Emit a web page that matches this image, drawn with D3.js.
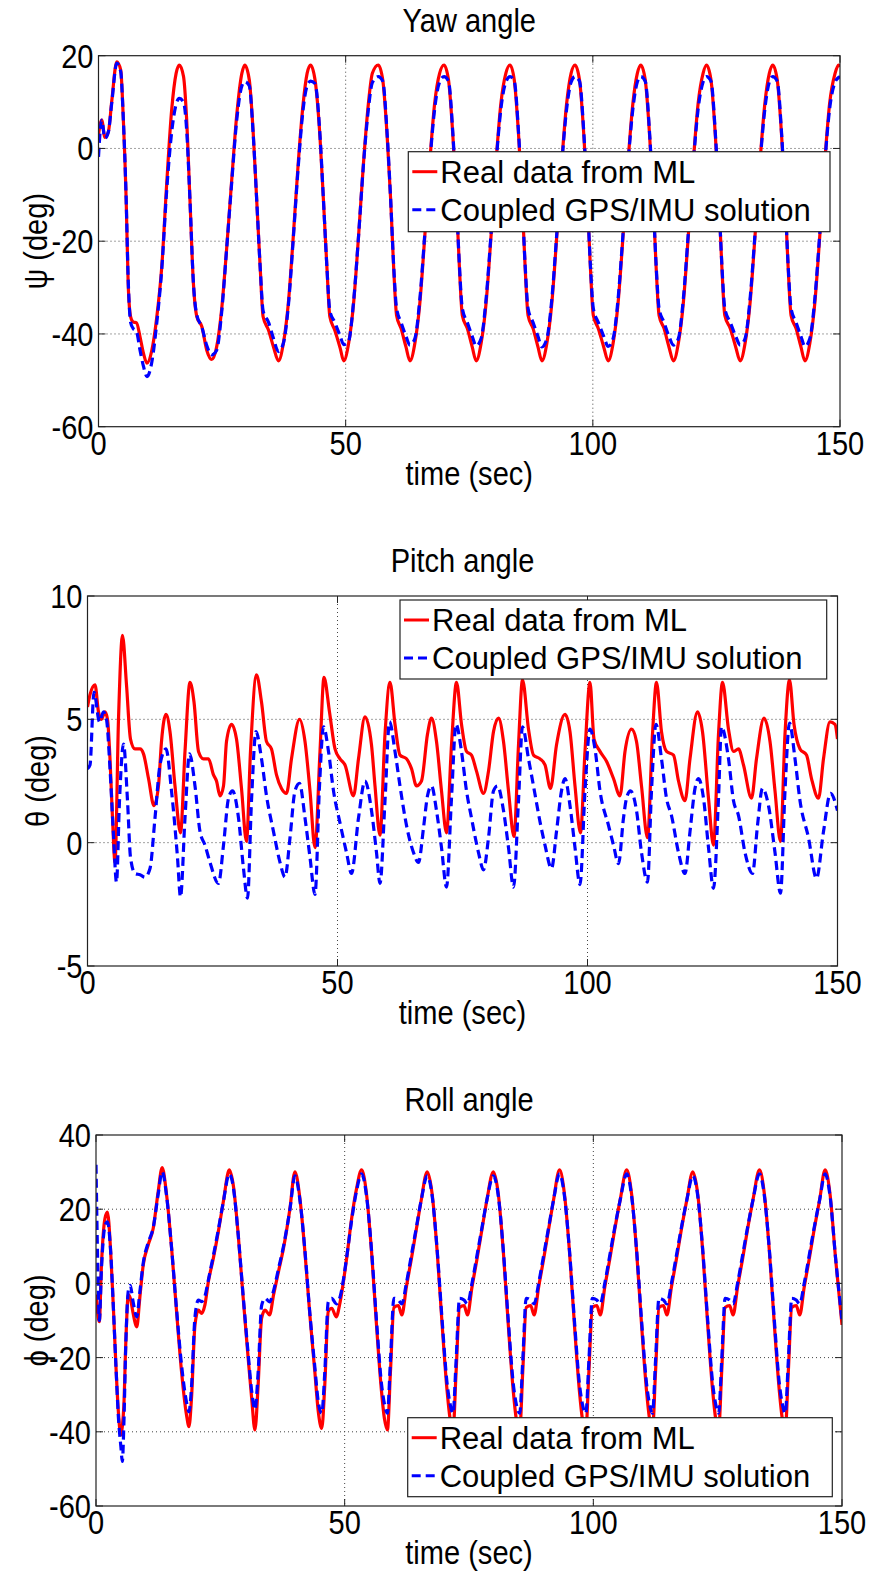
<!DOCTYPE html>
<html><head><meta charset="utf-8">
<script src="https://cdn.jsdelivr.net/npm/d3@7"></script>
<style>body{margin:0;background:#fff}svg{display:block}</style>
</head><body>
<script>
// ---------------- DATA ----------------
const xTicks = [0, 50, 100, 150];
const xTickLabels = ["0", "50", "100", "150"];
const legendLabels = ["Real data from ML", "Coupled GPS/IMU solution"];
const titles = ["Yaw angle", "Pitch angle", "Roll angle"];
const yLabels = ["\u03C8 (deg)", "\u03B8 (deg)", "\u03D5 (deg)"];
const xLabel = "time (sec)";
const yawTicks = [-60, -40, -20, 0, 20];
const pitchTicks = [-5, 0, 5, 10];
const rollTicks = [-60, -40, -20, 0, 20, 40];

// Yaw (time, real, coupled)
const yawT = [
 0,0.65,1.3,2.0,2.7,3.7,4.5,5.0,5.6,6.0,6.5,7.0,7.7,8.4,9.1,9.8,10.8,11.8,12.8,13.8,14.8,15.7,
 16.35,17.2,17.8,18.5,19.2,19.9,20.9,21.9,22.9,23.9,24.9,25.9,26.9,28.0,29.0,
 29.6,30.5,31.3,32.0,32.7,33.3,34.4,35.4,36.4,37.4,38.4,39.4,40.4,41.4,42.2,
 42.9,43.8,44.8,45.5,46.2,46.8,47.8,48.9,49.6,50.6,51.6,52.6,53.6,54.6,55.4,
 56.6,57.5,58.4,59.1,59.7,60.3,61.2,62.2,63.0,64.0,65.0,66.0,67.0,68.0,69.0,
 69.9,70.8,71.7,72.4,73.0,73.6,74.6,75.6,76.4,77.4,78.4,79.4,80.4,81.4,82.4,
 83.25,84.1,85.0,85.7,86.3,86.9,87.9,88.9,89.7,90.7,91.7,92.7,93.7,94.7,95.6,
 96.4,97.3,98.2,98.9,99.5,100.1,101.1,102.2,103.1,104.1,105.1,106.1,107.1,108.1,109.0,
 109.7,110.6,111.5,112.2,112.8,113.4,114.4,115.4,116.3,117.3,118.3,119.3,120.3,121.3,122.3,
 123.0,123.9,124.8,125.5,126.1,126.7,127.8,128.9,129.8,130.8,131.8,132.8,133.8,134.8,135.7,
 136.4,137.3,138.2,138.9,139.5,140.1,141.1,142.1,142.9,143.9,144.9,145.9,146.9,147.9,149.0,
 149.7,150];
const yawReal = [
 3,6.1,2.4,3.6,10.4,18.7,16.9,6.9,-11.1,-29.1,-36.3,-37.4,-37.6,-40.6,-44.2,-46.3,-43.5,-36.3,-25.5,-7.5,8.3,16.2,
 18,15.5,6.9,-11.1,-29.1,-36.3,-38.4,-43.5,-45.5,-42.8,-34.8,-21.9,-7.5,7.6,16.2,
 18,14.8,3.3,-11.1,-25.5,-36.3,-39.2,-42.8,-45.8,-42,-33.4,-19,-3.2,9.7,16.2,
 18,14.8,2.5,-11.1,-25.5,-36.3,-39.2,-43.1,-45.8,-42,-33.4,-19,-3.2,9.7,16.2,
 18,14.8,2.5,-11,-25.5,-36,-38.8,-42.8,-45.8,-42,-33.4,-19,-3.2,9.7,16.2,
 18,14.8,2.5,-11,-25.5,-36,-38.8,-42.8,-45.8,-42,-33.4,-19,-3.2,9.7,16.2,
 18,14.8,2.5,-11,-25.5,-36,-38.8,-42.8,-45.8,-42,-33.4,-19,-3.2,9.7,16.2,
 18,14.8,2.5,-11,-25.5,-36,-38.8,-42.8,-45.8,-42,-33.4,-19,-3.2,9.7,16.2,
 18,14.8,2.5,-11,-25.5,-36,-38.8,-42.8,-45.8,-42,-33.4,-19,-3.2,9.7,16.2,
 18,14.8,2.5,-11,-25.5,-36,-38.8,-42.8,-45.8,-42,-33.4,-19,-3.2,9.7,16.2,
 18,14.8,2.5,-11,-25.5,-36,-38.8,-42.8,-45.8,-42,-33.4,-19,-3.2,9.7,16.2,
 18,17.6];
const yawGps = [
 -1.8,6.1,2.2,3.6,10,18.4,16.5,6.9,-11,-28,-37.5,-38.8,-39.5,-43.5,-47,-49.2,-46,-37.5,-26,-9,3.5,9.5,
 10.8,10,4.5,-11,-29,-36,-38.5,-42.5,-44.5,-43.5,-35.5,-22,-8,6.5,13.5,
 14.4,13.5,3,-11,-25.5,-35,-37.5,-41,-43.8,-42,-34,-19.5,-4,8.5,13.5,
 14.5,14,3,-11,-25.5,-35,-37.5,-40.5,-42.3,-41.5,-33,-19,-3.5,8.5,14.2,
 15.5,14.5,3,-11,-25,-34.5,-37.5,-40.5,-42.4,-41,-32.5,-18.5,-3.5,8.5,14.3,
 15.5,14.5,3,-11,-25,-34.5,-37.5,-40.5,-42.6,-41,-32.5,-18.5,-3.5,8.5,14.3,
 15.5,14.5,3,-11,-25,-34.5,-37.5,-40.5,-42.8,-41,-32.5,-18.5,-3.5,8.5,14.3,
 15.5,14.5,3,-11,-25,-34.5,-37.5,-40.5,-42.7,-41,-32.5,-18.5,-3.5,8.5,14.3,
 15.5,14.5,3,-11,-25,-34.5,-37.5,-40.5,-42.4,-41,-32.5,-18.5,-3.5,8.5,14.3,
 15.5,14.5,3,-11,-25,-34.5,-37.5,-40.5,-42.4,-41,-32.5,-18.5,-3.5,8.5,14.3,
 15.5,14.5,3,-11,-25,-34.5,-37.5,-40.5,-42.7,-41,-32.5,-18.5,-3.5,8.5,14.3,
 15.3,15.5];

// Pitch [time, value]
const pitchReal = [[0,5.5],[0.5,6.0],[1.5,6.4],[2.2,5.3],[2.8,5.0],[3.5,5.3],[4.0,5.0],[4.5,3.4],[5.0,1.0],[5.5,-0.8],[6.2,5.0],[7.0,8.4],[7.8,6.4],[8.6,4.2],[9.5,3.8],[10.5,3.8],[11.2,3.6],[12.2,2.6],[13.3,1.5],[14.2,2.3],[14.8,4.1],[15.7,5.2],[16.5,4.5],[17.5,2.3],[18.6,0.4],[19.5,3.7],[20.5,6.5],[21.3,5.7],[22.2,3.7],[23.2,3.4],[24.2,3.4],[25.2,2.75],[25.8,2.5],[26.5,1.9],[27.2,2.3],[27.8,4.1],[28.8,4.8],[29.8,4.2],[30.8,2.2],[31.8,0.05],[32.6,3.7],[33.8,6.8],[34.8,5.7],[35.8,4.1],[36.8,3.8],[37.8,2.75],[38.8,2.2],[39.8,2.0],[40.8,3.4],[42.4,5.0],[43.5,4.1],[44.5,2.1],[45.5,-0.2],[46.5,3.7],[47.3,6.7],[48.4,5.3],[49.5,3.8],[50.5,3.4],[51.5,3.15],[53.2,1.9],[54.2,3.4],[55.5,5.1],[56.8,3.96],[57.5,2.3],[58.5,0.3],[59.5,4.4],[60.5,6.5],[61.5,4.8],[62.5,3.55],[63.8,3.4],[64.8,3.0],[65.8,2.3],[66.8,2.5],[68,4.4],[68.8,5.05],[69.8,4.1],[70.8,2.1],[71.8,0.4],[72.8,3.96],[73.8,6.5],[74.8,4.8],[75.8,3.7],[76.8,3.55],[77.8,2.9],[79.2,2.0],[80.2,2.9],[81.2,4.5],[82.2,5.05],[83.2,4.1],[84.2,2.1],[85.3,0.25],[86.2,3.96],[87.0,6.6],[88.2,4.6],[89.2,3.55],[90.5,3.4],[91.5,3.15],[92.6,2.2],[93.8,3.96],[95.5,5.2],[96.5,4.5],[97.5,2.3],[98.6,0.4],[99.5,3.7],[100.5,6.5],[101.3,4.2],[102.5,3.7],[103.8,3.3],[105.2,2.6],[106.5,1.9],[107.5,3.7],[108.8,4.6],[109.8,4.1],[110.8,2.3],[112,0.2],[113,4.4],[113.8,6.5],[114.8,4.5],[115.8,3.7],[117.2,3.55],[118.2,2.5],[119.5,1.7],[120.5,3.4],[122,5.3],[123,4.5],[124.2,1.8],[125.2,-0.1],[126.2,4.4],[127,6.5],[128.2,4.6],[129.2,3.7],[130.2,3.8],[131.2,3.15],[132.8,1.8],[133.8,3.4],[135.3,5.05],[136.5,4.1],[137.5,2.1],[138.6,0.05],[139.5,4.4],[140.4,6.6],[141.3,4.8],[142.5,3.8],[143.8,3.55],[144.8,2.6],[146.2,1.8],[147.2,3.4],[148.5,4.9],[149.5,4.8],[150,4.2]];
const pitchGps = [[0,3.0],[0.5,3.15],[1.3,6.1],[2.4,4.9],[3.2,5.3],[3.8,5.0],[4.5,3.0],[5.2,0.3],[5.8,-1.6],[6.4,1.7],[7.2,4.0],[8.0,1.7],[8.6,-0.6],[9.5,-1.25],[10.5,-1.3],[11.5,-1.4],[12.5,-1.05],[13.5,1.0],[14.5,3.15],[15.7,3.8],[16.8,2.1],[18,-0.6],[18.6,-2.2],[19.5,1.0],[20.4,3.6],[21.5,2.3],[22.5,0.45],[23.5,-0.1],[24.5,-0.8],[26.2,-1.65],[27.2,-0.1],[28.2,1.8],[29,2.1],[30.2,1.0],[31.2,-1.05],[32,-2.25],[32.8,1.7],[33.7,4.5],[34.8,3.4],[35.8,1.9],[37.2,0.45],[38.5,-0.8],[39.5,-1.4],[40.5,0.2],[41.5,2.1],[42.4,2.4],[43.5,1.0],[44.5,-0.6],[45.5,-2.1],[46.4,2.3],[47.2,4.7],[48.2,3.7],[49.2,2.1],[50.5,0.8],[51.8,-0.4],[52.8,-1.25],[54.2,1.0],[55.5,2.5],[56.8,1.3],[57.8,-0.4],[58.5,-1.65],[59.5,1.7],[60.4,4.9],[61.5,3.7],[62.5,2.3],[63.8,0.7],[65.2,-0.4],[66.2,-0.8],[67.2,0.6],[68,1.9],[68.8,2.3],[69.8,1.3],[70.8,-0.2],[71.8,-1.8],[72.8,1.8],[73.7,4.8],[74.8,3.7],[75.8,2.1],[76.8,1.0],[78.2,-0.4],[79.2,-1.1],[80.2,0.2],[81.2,2.1],[82,2.3],[83.2,1.3],[84.2,-0.2],[85.2,-1.8],[86.2,1.7],[87,4.7],[88.2,3.4],[89.2,2.3],[90.5,0.85],[91.5,-0.1],[92.8,-1.05],[93.8,0.45],[94.8,2.1],[95.5,2.6],[96.5,1.5],[97.5,-0.2],[98.5,-1.7],[99.5,2.1],[100.5,4.6],[101.5,3.8],[102.5,2.1],[104.2,0.7],[105.2,-0.1],[106.2,-0.85],[107.2,1.0],[107.8,1.8],[108.6,2.1],[109.8,1.3],[110.8,-0.4],[112,-1.6],[112.8,2.1],[113.7,4.8],[114.8,3.4],[115.8,1.8],[116.8,1.1],[118.2,-0.4],[119.5,-1.25],[120.5,0.45],[121.5,2.2],[122.2,2.6],[123.2,1.8],[124.2,-0.2],[125.2,-1.85],[126.2,1.8],[126.8,4.7],[128.2,3.4],[129.2,1.7],[130.2,1.1],[131.5,-0.4],[133,-1.25],[134,0.7],[135,2.2],[136.2,1.5],[137.5,-0.4],[138.6,-2.05],[139.5,2.1],[140.4,4.85],[141.5,3.4],[142.5,1.7],[144.2,0.2],[145.8,-1.45],[147.2,0.45],[148.6,2.0],[150,1.3]];

// Roll (time, real, coupled)
const rollT = [
 0,0.35,0.67,1.1,1.8,2.3,2.95,3.5,4.0,4.5,5.0,5.3,5.6,6.0,6.5,6.9,7.4,8.2,8.8,9.5,10.5,11.5,12.5,
 13.3,14.2,15.2,16.2,17.2,18.2,18.7,19.2,19.9,20.6,21.2,21.9,22.6,23.6,24.6,25.6,
 26.8,27.6,28.6,29.6,30.6,31.3,31.96,32.6,33.3,34.0,34.9,35.7,36.7,37.7,39.0,
 40.0,41.0,42.0,43.0,44.0,44.7,45.4,46.0,46.7,47.4,48.3,49.1,50.4,51.4,52.4,
 53.4,54.4,55.4,56.4,57.4,58.0,58.6,59.2,59.9,60.8,61.5,62.4,63.4,64.4,65.4,
 66.6,67.6,68.6,69.6,70.6,71.2,71.8,72.4,73.1,74.0,74.7,75.6,76.6,77.6,78.6,
 79.9,80.9,81.9,82.9,83.9,84.5,85.2,85.8,86.5,87.4,88.1,89.0,90.0,91.0,92.0,
 93.2,94.2,95.2,96.2,97.2,97.8,98.5,99.1,99.8,100.7,101.4,102.3,103.3,104.3,105.4,
 106.7,107.7,108.7,109.7,110.7,111.3,111.9,112.5,113.2,114.1,114.8,115.7,116.7,117.7,118.8,
 120.0,121.0,122.0,123.0,124.0,124.6,125.2,125.8,126.5,127.4,128.1,129.0,130.0,131.0,132.1,
 133.4,134.4,135.4,136.4,137.4,138.0,138.6,139.2,139.9,140.8,141.5,142.4,143.4,144.4,145.5,
 146.6,147.6,148.7,150];
const rollReal = [
 -3,-8,-10.3,5,17.5,19.2,8.6,-6.7,-22,-34.6,-40.9,-38.5,-33,-15.7,-3.1,-4,-7.6,-11.7,-4,5,10.4,14.8,24.7,
 31.2,23.8,9.5,-7.6,-23.8,-35.5,-38.6,-31,-11.2,-7.2,-8.1,-5.8,0.5,6.8,14,22,
 30.6,26.5,13,-4,-20.2,-31,-39.5,-27.4,-9.4,-7.2,-8.5,-3.1,3.2,9.5,20.2,
 30.1,22.9,8.6,-8.5,-23.8,-34.6,-39.1,-27.4,-7.6,-6.7,-9,-4.9,6.8,17.5,25.6,
 30.6,24,8.6,-11.2,-29,-36.5,-39.5,-24,-6.5,-6,-8.5,-1,6.5,14.5,22.5,
 30.1,24,8.6,-11.2,-29,-36.5,-39.5,-24,-6.5,-6,-8.5,-1,6.5,14.5,22.5,
 30.1,24,8.6,-11.2,-29,-36.5,-39.5,-24,-6.5,-6,-8.5,-1,6.5,14.5,22.5,
 30.6,24,8.6,-11.2,-29,-36.5,-39.5,-24,-6.5,-6,-8.5,-1,6.5,14.5,22.5,
 30.6,24,8.6,-11.2,-29,-36.5,-39.5,-24,-6.5,-6,-8.5,-1,6.5,14.5,22.5,
 30.1,24,8.6,-11.2,-29,-36.5,-39.5,-24,-6.5,-6,-8.5,-1,6.5,14.5,22.5,
 30.6,24,8.6,-11.2,-29,-36.5,-39.5,-24,-6.5,-6,-8.5,-1,6.5,14.5,22.5,
 30.6,24,6.8,-11.2];
const rollGps = [
 32,5,-10,4,15.5,16.6,8.6,-6.7,-22,-36,-44,-48,-38,-16,-2,-0.5,-4.5,-9,-2.5,5.5,11,15,24,
 30.1,23.5,9.5,-7,-22,-32,-34.6,-28,-9,-4.5,-4.9,-3.5,1,7.5,14.5,22,
 29.5,26,13,-3.5,-19,-29,-34,-24,-6,-4,-5,-2,4,10,20,
 29,22.5,9,-8,-22.5,-32,-35,-24,-5,-4,-5.5,-3.5,7,17,25,
 29.5,23.5,9,-10,-27,-32.5,-35,-21,-4,-4.5,-5.5,0,7.5,15,22.5,
 29,23.5,9,-10,-27,-32.5,-35,-21,-4,-4.5,-5.5,0,7.5,15,22.5,
 29,23.5,9,-10,-27,-32.5,-35,-21,-4,-4.5,-5.5,0,7.5,15,22.5,
 29.5,23.5,9,-10,-27,-32.5,-35,-21,-4,-4.5,-5.5,0,7.5,15,22.5,
 29.5,23.5,9,-10,-27,-32.5,-35,-21,-4,-4.5,-5.5,0,7.5,15,22.5,
 29,23.5,9,-10,-27,-32.5,-35,-21,-4,-4.5,-5.5,0,7.5,15,22.5,
 29.5,23.5,9,-10,-27,-32.5,-35,-21,-4,-4.5,-5.5,0,7.5,15,22.5,
 29.5,23.5,7,-10];

// ---------------- DRAW ----------------
const W = 871, H = 1573;
const FONT = "'Liberation Sans', Arial, Helvetica, sans-serif";
const FS = 33, SX = 0.88, LFS = 31;
const svg = d3.select("body").append("svg").attr("width", W).attr("height", H);
svg.append("rect").attr("width", W).attr("height", H).attr("fill", "#fff");

function label(g, x, y, s, anchor, rot, size, sx) {
  g.append("text")
    .attr("transform", `translate(${x},${y})${rot ? " rotate(" + rot + ")" : ""} scale(${sx},1)`)
    .attr("text-anchor", anchor)
    .attr("font-family", FONT).attr("font-size", size).attr("fill", "#000")
    .text(s);
}

const zip = (t, v) => t.map((d, i) => [d, v[i]]);

const panels = [
  {x0: 98.5, x1: 840, y0: 55.7, y1: 426.7, dom: [-60, 20], ticks: yawTicks,
   real: zip(yawT, yawReal), gps: zip(yawT, yawGps), title: titles[0], ylab: yLabels[0], ylx: 47,
   leg: {x: 408.3, y: 151.7, w: 421.7, h: 80}},
  {x0: 87.5, x1: 837.5, y0: 596, y1: 966, dom: [-5, 10], ticks: pitchTicks,
   real: pitchReal, gps: pitchGps, title: titles[1], ylab: yLabels[1], ylx: 49,
   leg: {x: 400, y: 600, w: 426.7, h: 79}},
  {x0: 96, x1: 842, y0: 1135, y1: 1506, dom: [-60, 40], ticks: rollTicks,
   real: zip(rollT, rollReal), gps: zip(rollT, rollGps), title: titles[2], ylab: yLabels[2], ylx: 48,
   leg: {x: 407.7, y: 1417.7, w: 424.6, h: 79}}
];

panels.forEach((p, i) => {
  const x = d3.scaleLinear().domain([0, 150]).range([p.x0, p.x1]);
  const y = d3.scaleLinear().domain(p.dom).range([p.y1, p.y0]);
  const g = svg.append("g");
  const clipId = "clip" + i;
  g.append("clipPath").attr("id", clipId).append("rect")
    .attr("x", p.x0).attr("y", p.y0).attr("width", p.x1 - p.x0).attr("height", p.y1 - p.y0);

  // grid
  g.selectAll(".gx").data(xTicks.slice(1, -1)).enter().append("line")
    .attr("x1", d => x(d)).attr("x2", d => x(d)).attr("y1", p.y0).attr("y2", p.y1)
    .attr("stroke", "#444").attr("stroke-width", 1).attr("stroke-dasharray", "1,3");
  g.selectAll(".gy").data(p.ticks.slice(1, -1)).enter().append("line")
    .attr("y1", d => y(d)).attr("y2", d => y(d)).attr("x1", p.x0).attr("x2", p.x1)
    .attr("stroke", "#444").attr("stroke-width", 1).attr("stroke-dasharray", "1,3");

  const line = d3.line().x(d => x(d[0])).y(d => y(d[1])).curve(d3.curveMonotoneX);
  const lines = g.append("g").attr("clip-path", `url(#${clipId})`);
  lines.append("path").attr("d", line(p.real)).attr("fill", "none")
    .attr("stroke", "#ff0000").attr("stroke-width", 3.2).attr("stroke-linejoin", "round");
  lines.append("path").attr("d", line(p.gps)).attr("fill", "none")
    .attr("stroke", "#0000ff").attr("stroke-width", 3.2).attr("stroke-dasharray", "9,5");

  // box
  g.append("rect").attr("x", p.x0).attr("y", p.y0).attr("width", p.x1 - p.x0).attr("height", p.y1 - p.y0)
    .attr("fill", "none").attr("stroke", "#222").attr("stroke-width", 1.2);
  // inward ticks on all sides
  const TL = 7;
  xTicks.forEach(t => {
    g.append("line").attr("x1", x(t)).attr("x2", x(t)).attr("y1", p.y1).attr("y2", p.y1 - TL).attr("stroke", "#222");
    g.append("line").attr("x1", x(t)).attr("x2", x(t)).attr("y1", p.y0).attr("y2", p.y0 + TL).attr("stroke", "#222");
  });
  p.ticks.forEach(t => {
    g.append("line").attr("y1", y(t)).attr("y2", y(t)).attr("x1", p.x0).attr("x2", p.x0 + TL).attr("stroke", "#222");
    g.append("line").attr("y1", y(t)).attr("y2", y(t)).attr("x1", p.x1).attr("x2", p.x1 - TL).attr("stroke", "#222");
  });

  // tick labels
  xTicks.forEach((t, k) => label(g, x(t), p.y1 + 28, xTickLabels[k], "middle", 0, FS, SX));
  p.ticks.forEach(t => label(g, p.x0 - 5, y(t) + 12, String(t), "end", 0, FS, SX));

  // titles & axis labels
  label(g, (p.x0 + p.x1) / 2, p.y0 - 24, p.title, "middle", 0, FS, SX);
  label(g, (p.x0 + p.x1) / 2, p.y1 + 58, xLabel, "middle", 0, FS, SX);
  label(g, p.ylx, (p.y0 + p.y1) / 2, p.ylab, "middle", -90, FS, SX);

  // legend
  const L = p.leg;
  const lg = g.append("g");
  lg.append("rect").attr("x", L.x).attr("y", L.y).attr("width", L.w).attr("height", L.h)
    .attr("fill", "#fff").attr("stroke", "#222").attr("stroke-width", 1.2);
  const rows = [{c: "#ff0000", dash: null}, {c: "#0000ff", dash: "9,5"}];
  rows.forEach((r, k) => {
    const cy = L.y + 20 + k * 38;
    const ln = lg.append("line").attr("x1", L.x + 4).attr("x2", L.x + 29).attr("y1", cy).attr("y2", cy)
      .attr("stroke", r.c).attr("stroke-width", 3);
    if (r.dash) ln.attr("stroke-dasharray", r.dash);
    label(lg, L.x + 32, cy + 11, legendLabels[k], "start", 0, LFS, 1);
  });
});
</script>
</body></html>
